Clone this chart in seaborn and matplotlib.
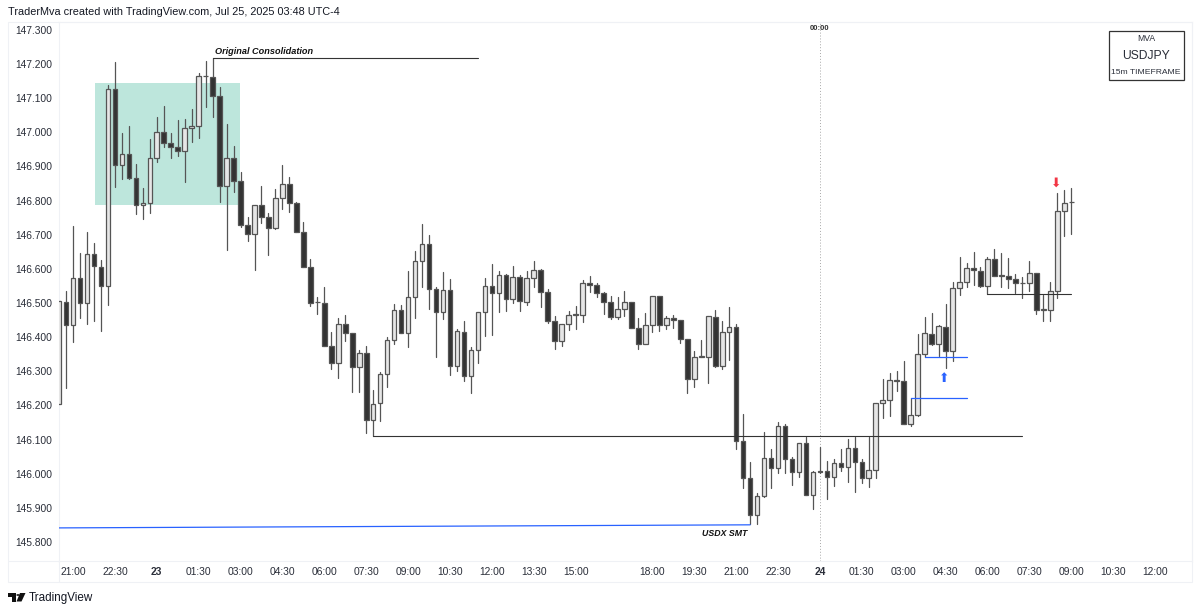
import numpy as np
import pandas as pd
import matplotlib
matplotlib.use('Agg')
import matplotlib.pyplot as plt
from matplotlib.patches import Rectangle, Polygon, Circle
import seaborn as sns

# USDJPY 15m candles, first bar sits two slots before the 21:00 label
first_bar = -2

opens = [146.205, 146.504,
         146.436, 146.574, 146.500, 146.644, 146.605, 146.551, 147.127, 146.905, 146.936, 146.867,
         146.787, 146.794, 146.924, 147.002, 146.969, 146.956, 146.944, 147.013, 147.018, 147.164,
         147.162, 147.108, 146.844, 146.926, 146.857, 146.729, 146.703, 146.788, 146.753, 146.720,
         146.807, 146.848, 146.793, 146.707, 146.605, 146.502, 146.501, 146.374, 146.325, 146.439,
         146.411, 146.312, 146.353, 146.156, 146.206, 146.292, 146.392, 146.479, 146.412, 146.519,
         146.623, 146.672, 146.541, 146.473, 146.538, 146.314, 146.416, 146.286, 146.362, 146.473,
         146.551, 146.530, 146.581, 146.513, 146.577, 146.504, 146.572, 146.596, 146.533, 146.447,
         146.388, 146.438, 146.465, 146.466, 146.558, 146.554, 146.529, 146.502, 146.460, 146.483,
         146.502, 146.427, 146.381, 146.437, 146.520, 146.435, 146.456, 146.450, 146.394, 146.278,
         146.342, 146.343, 146.460, 146.315, 146.415, 146.431, 146.096, 145.986, 145.880, 145.935,
         146.045, 146.016, 146.141, 146.042, 146.005, 146.089, 145.937, 146.009, 146.009, 145.989,
         146.032, 146.018, 146.074, 146.035, 145.988, 146.010, 146.206, 146.217, 146.274, 146.271,
         146.144, 146.172, 146.350, 146.410, 146.380, 146.431, 146.360, 146.543, 146.562, 146.603,
         146.595, 146.549, 146.628, 146.580, 146.580, 146.570, 146.558, 146.558, 146.588, 146.480,
         146.480, 146.535, 146.770, 146.795]

closes = [146.505, 146.436,
          146.574, 146.500, 146.644, 146.607, 146.551, 147.127, 146.905, 146.936, 146.867, 146.788,
          146.794, 146.924, 147.002, 146.969, 146.957, 146.944, 147.012, 147.018, 147.164, 147.166,
          147.108, 146.844, 146.926, 146.858, 146.729, 146.703, 146.788, 146.753, 146.720, 146.807,
          146.848, 146.794, 146.708, 146.606, 146.501, 146.504, 146.375, 146.325, 146.439, 146.411,
          146.312, 146.353, 146.156, 146.205, 146.292, 146.392, 146.479, 146.412, 146.519, 146.623,
          146.672, 146.541, 146.473, 146.538, 146.314, 146.417, 146.286, 146.362, 146.473, 146.551,
          146.530, 146.581, 146.513, 146.577, 146.505, 146.572, 146.596, 146.533, 146.448, 146.388,
          146.438, 146.465, 146.468, 146.558, 146.554, 146.529, 146.502, 146.459, 146.483, 146.502,
          146.427, 146.381, 146.437, 146.520, 146.435, 146.456, 146.451, 146.394, 146.278, 146.342,
          146.344, 146.461, 146.315, 146.414, 146.431, 146.096, 145.986, 145.880, 145.935, 146.045,
          146.016, 146.141, 146.042, 146.005, 146.089, 145.937, 146.005, 146.006, 145.989, 146.032,
          146.018, 146.074, 146.035, 145.988, 146.010, 146.206, 146.217, 146.274, 146.271, 146.144,
          146.172, 146.350, 146.411, 146.380, 146.432, 146.360, 146.543, 146.562, 146.603, 146.596,
          146.549, 146.628, 146.580, 146.582, 146.570, 146.558, 146.560, 146.588, 146.480, 146.482,
          146.534, 146.770, 146.794, 146.797]

highs = [146.509, 146.534,
         146.727, 146.646, 146.708, 146.677, 146.626, 147.139, 147.206, 146.998, 147.019, 146.907,
         146.837, 146.981, 147.044, 147.078, 146.998, 147.035, 147.039, 147.068, 147.175, 147.208,
         147.217, 147.134, 147.025, 146.961, 146.885, 146.753, 146.788, 146.844, 146.765, 146.834,
         146.903, 146.868, 146.797, 146.737, 146.630, 146.519, 146.546, 146.416, 146.457, 146.465,
         146.413, 146.362, 146.375, 146.245, 146.297, 146.401, 146.496, 146.494, 146.594, 146.651,
         146.732, 146.698, 146.546, 146.592, 146.570, 146.423, 146.447, 146.370, 146.473, 146.572,
         146.613, 146.595, 146.585, 146.607, 146.582, 146.594, 146.623, 146.599, 146.541, 146.463,
         146.439, 146.477, 146.492, 146.566, 146.579, 146.558, 146.531, 146.521, 146.519, 146.535,
         146.502, 146.455, 146.470, 146.520, 146.520, 146.463, 146.465, 146.451, 146.394, 146.360,
         146.392, 146.463, 146.480, 146.448, 146.489, 146.438, 146.175, 146.035, 145.942, 146.121,
         146.072, 146.150, 146.146, 146.048, 146.089, 146.107, 146.009, 146.079, 146.038, 146.042,
         146.071, 146.102, 146.108, 146.042, 146.108, 146.206, 146.277, 146.294, 146.301, 146.330,
         146.221, 146.409, 146.460, 146.470, 146.436, 146.497, 146.563, 146.634, 146.618, 146.648,
         146.605, 146.634, 146.657, 146.646, 146.631, 146.584, 146.577, 146.623, 146.589, 146.522,
         146.561, 146.821, 146.831, 146.836]

lows = [146.204, 146.251,
        146.387, 146.455, 146.439, 146.446, 146.419, 146.495, 146.841, 146.863, 146.863, 146.761,
        146.746, 146.765, 146.912, 146.957, 146.924, 146.932, 146.856, 146.971, 146.983, 147.073,
        147.044, 146.797, 146.654, 146.824, 146.722, 146.683, 146.597, 146.734, 146.641, 146.716,
        146.775, 146.768, 146.708, 146.605, 146.491, 146.467, 146.374, 146.307, 146.279, 146.390,
        146.240, 146.240, 146.120, 146.109, 146.155, 146.253, 146.380, 146.411, 146.372, 146.457,
        146.548, 146.483, 146.343, 146.452, 146.290, 146.302, 146.272, 146.235, 146.323, 146.403,
        146.406, 146.473, 146.478, 146.499, 146.478, 146.494, 146.546, 146.487, 146.440, 146.366,
        146.375, 146.421, 146.424, 146.445, 146.531, 146.517, 146.467, 146.452, 146.452, 146.462,
        146.427, 146.364, 146.381, 146.416, 146.418, 146.423, 146.427, 146.384, 146.237, 146.255,
        146.341, 146.267, 146.312, 146.306, 146.333, 146.072, 145.957, 145.853, 145.853, 145.933,
        145.957, 146.003, 146.001, 145.967, 145.991, 145.937, 145.896, 146.003, 145.925, 145.964,
        146.008, 145.975, 145.947, 145.974, 145.962, 145.986, 146.164, 146.169, 146.242, 146.144,
        146.141, 146.169, 146.343, 146.377, 146.345, 146.311, 146.331, 146.522, 146.548, 146.553,
        146.548, 146.526, 146.580, 146.548, 146.543, 146.528, 146.516, 146.536, 146.467, 146.448,
        146.448, 146.514, 146.697, 146.702]

# axis labels
price_ticks = [147.3, 147.2, 147.1, 147.0, 146.9, 146.8, 146.7, 146.6,
               146.5, 146.4, 146.3, 146.2, 146.1, 146.0, 145.9, 145.8]
time_labels = ['21:00', '22:30', '23', '01:30', '03:00', '04:30', '06:00', '07:30', '09:00',
               '10:30', '12:00', '13:30', '15:00', '18:00', '19:30', '21:00', '22:30', '24',
               '01:30', '03:00', '04:30', '06:00', '07:30', '09:00', '10:30', '12:00']
time_slots = [0, 6, 12, 18, 24, 30, 36, 42, 48, 54, 60, 66, 72, 83, 89, 95, 101, 107,
              113, 119, 125, 131, 137, 143, 149, 155]

# drawn levels: slot start, slot end, price start, price end
black_levels = [(20, 58, 147.218, 147.218), (43, 136, 146.109, 146.109), (131, 143, 146.526, 146.526)]
blue_levels = [(-2, 97, 145.841, 145.850), (122, 128, 146.343, 146.343), (120, 128, 146.221, 146.221)]

BULL = '#e6e6e6'
BEAR = '#333333'
EDGE = '#555555'
TEXT = '#2a2e39'
GRID = '#eff1f5'

sns.set_theme(style='white')
plt.rcParams['font.family'] = ['Liberation Sans', 'DejaVu Sans']

W, H = 1200, 612
fig = plt.figure(figsize=(W / 100, H / 100), dpi=100)
ax = fig.add_axes([58.5 / W, 1 - 561 / H, (1192 - 58.5) / W, (561 - 22) / H])
ax.set_facecolor('white')


def fx(px):
    return px / W


def fy(py):
    return 1 - py / H


slots = np.arange(first_bar, first_bar + len(opens))
candles = pd.DataFrame({'slot': slots, 'open': opens, 'high': highs, 'low': lows, 'close': closes})

# consolidation box under the candles
ax.add_patch(Rectangle((3.1, 146.788), 20.8, 147.144 - 146.788, facecolor='#bde6dc', edgecolor='none', zorder=1))

# midnight marker
ax.axvline(107, color='#a8a8a8', lw=0.7, ls=(0, (1, 2)), zorder=1)

# wicks, one unit per candle
wicks = candles.melt(id_vars='slot', value_vars=['high', 'low'], value_name='price')
sns.lineplot(data=wicks, x='slot', y='price', units='slot', estimator=None, sort=False,
             color=EDGE, lw=0.9, legend=False, ax=ax, zorder=2)

# bodies
up = candles['close'] >= candles['open']
bottoms = candles[['open', 'close']].min(axis=1)
heights = (candles['close'] - candles['open']).abs()
ax.bar(candles['slot'], heights, bottom=bottoms, width=0.66,
       color=[BULL if u else BEAR for u in up], edgecolor=EDGE, linewidth=0.9, zorder=3)

# levels
for start, end, p0, p1 in black_levels:
    level = pd.DataFrame({'slot': [start, end], 'price': [p0, p1]})
    sns.lineplot(data=level, x='slot', y='price', color='#333333', lw=0.8, ax=ax, zorder=4)
for start, end, p0, p1 in blue_levels:
    level = pd.DataFrame({'slot': [start, end], 'price': [p0, p1]})
    sns.lineplot(data=level, x='slot', y='price', color='#2962ff', lw=0.9, ax=ax, zorder=4)

# annotations
ax.text(20.3, 147.236, 'Original Consolidation', fontsize=6.55, fontweight='bold', fontstyle='italic',
        color='#111111', va='center', ha='left', zorder=5)
ax.text(90.1, 145.825, 'USDX SMT', fontsize=6.3, fontweight='bold', fontstyle='italic',
        color='#111111', va='center', ha='left', zorder=5)
ax.text(124.8, 146.28, '⬆', fontsize=9, color='#2962ff', ha='center', va='center',
        family=['DejaVu Sans'], zorder=5)
ax.text(140.8, 146.85, '⬇', fontsize=9, color='#f23645', ha='center', va='center',
        family=['DejaVu Sans'], zorder=5)
ax.text(107, 147.305, '00:00', fontsize=5.5, fontweight='bold', color='#333333', ha='center', va='center', zorder=5)

# axes
ax.set_xlim(-2.08, 160.3)
ax.set_ylim(145.744, 147.3234)
ax.set_xlabel('')
ax.set_ylabel('')
ax.set_yticks(price_ticks)
ax.set_yticklabels([f'{p:.3f}' for p in price_ticks], fontsize=7.4, color=TEXT)
ax.set_xticks(time_slots)
ax.set_xticklabels(time_labels, fontsize=7.4, color=TEXT)
for lab in ax.get_xticklabels():
    if lab.get_text() in ('23', '24'):
        lab.set_fontweight('bold')
ax.tick_params(axis='both', length=0)
ax.tick_params(axis='y', pad=4.5)
ax.tick_params(axis='x', pad=4.5)
ax.grid(False)
for spine in ax.spines.values():
    spine.set_color(GRID)
    spine.set_linewidth(0.8)

# outer frame around chart and scales
fig.add_artist(Rectangle((fx(8), fy(582)), fx(1192) - fx(8), fy(22) - fy(582), fill=False,
                         edgecolor=GRID, lw=0.8, transform=fig.transFigure))
fig.add_artist(plt.Line2D([fx(8), fx(58.5)], [fy(561), fy(561)], color=GRID, lw=0.8))
fig.add_artist(plt.Line2D([fx(58.5), fx(58.5)], [fy(561), fy(582)], color=GRID, lw=0.8))

fig.text(fx(8), fy(12), 'TraderMva created with TradingView.com, Jul 25, 2025 03:48 UTC-4',
         fontsize=7.8, color='#131722', va='center', ha='left')

# info box top right
fig.add_artist(Rectangle((fx(1108.5), fy(80)), fx(1184) - fx(1108.5), fy(31) - fy(80), facecolor='white',
                         edgecolor='#333333', lw=0.9, transform=fig.transFigure, zorder=6))
fig.text(fx(1146), fy(38.5), 'MVA', fontsize=6.2, color=TEXT, ha='center', va='center', zorder=7)
fig.text(fx(1146), fy(56), 'USDJPY', fontsize=8.7, color=TEXT, ha='center', va='center', zorder=7)
fig.text(fx(1146), fy(72.5), '15m TIMEFRAME', fontsize=6.1, color=TEXT, ha='center', va='center', zorder=7)

# footer logo
logo = [[(8, 593), (15.5, 593), (15.5, 601.5), (11.5, 601.5), (11.5, 596.5), (8, 596.5)],
        [(20, 593), (25.5, 593), (21.5, 601.5), (16.5, 601.5)]]
for shape in logo:
    fig.add_artist(Polygon([(fx(a), fy(b)) for a, b in shape], closed=True, facecolor='#111111',
                           edgecolor='none', transform=fig.transFigure))
fig.add_artist(Circle((fx(18), fy(595)), 1.7 / W, facecolor='#111111', edgecolor='none', transform=fig.transFigure))
fig.text(fx(28.5), fy(597.5), 'TradingView', fontsize=8.4, color='#131722', va='center', ha='left')

fig.savefig('out.png', dpi=100, facecolor='white')
